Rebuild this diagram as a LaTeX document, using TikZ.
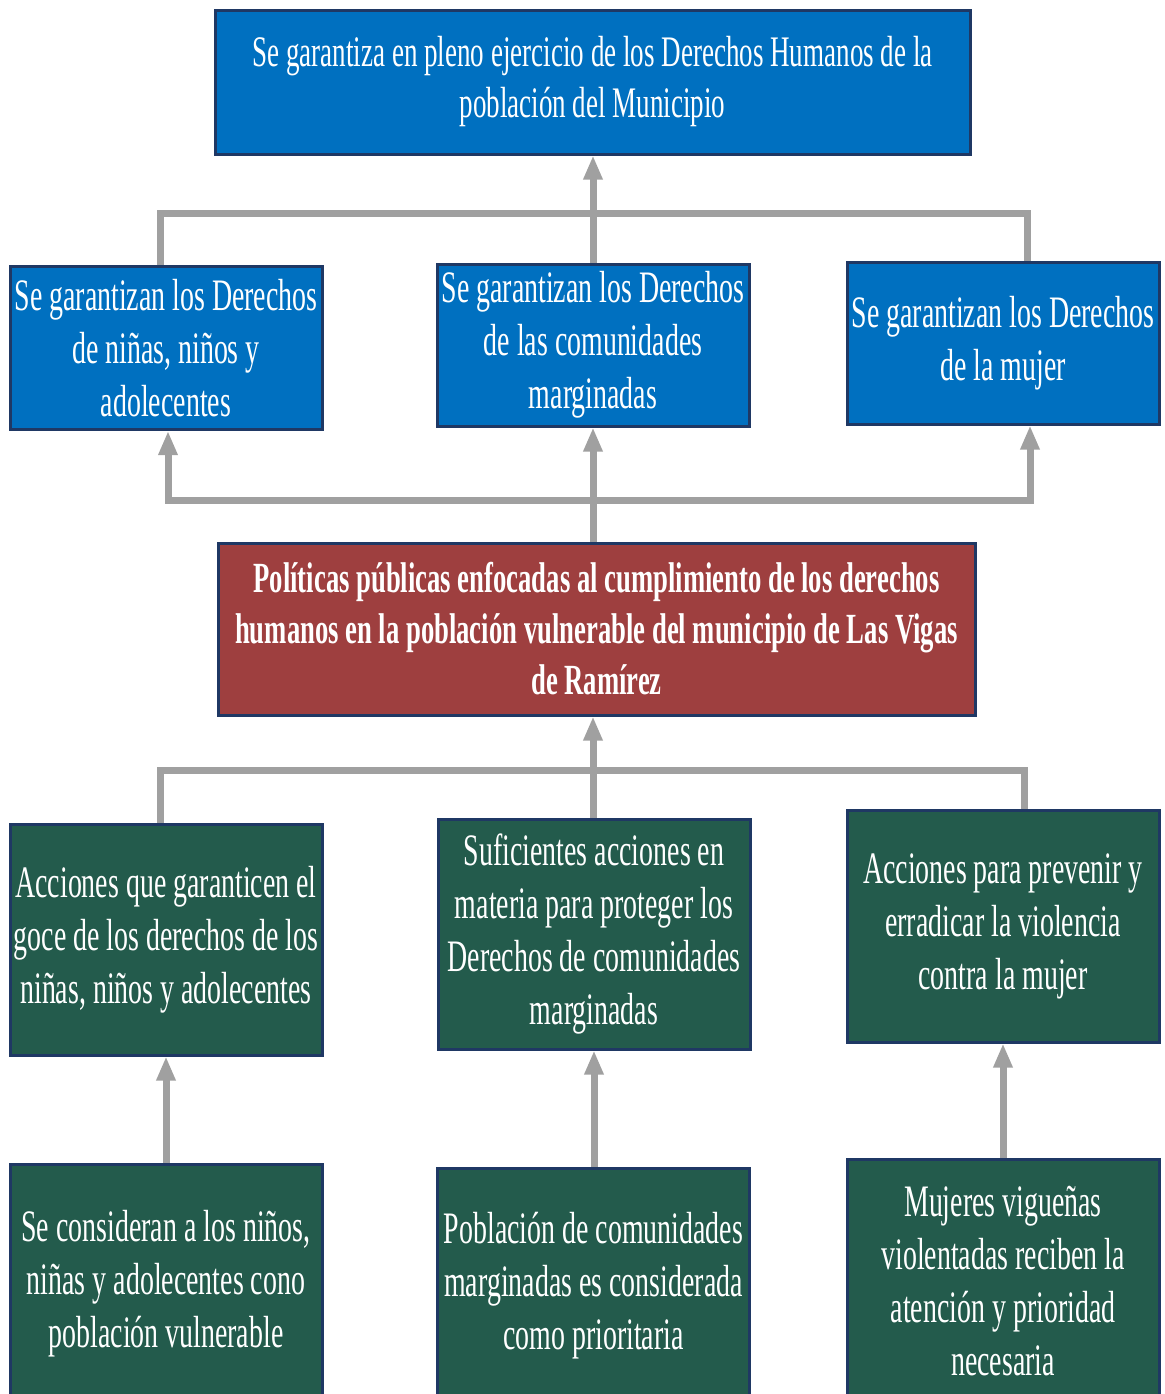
\documentclass[tikz,border=0pt]{standalone}
\usepackage{fontspec}
\setmainfont[FakeStretch=0.62]{Liberation Serif}
\usetikzlibrary{arrows.meta}
\definecolor{azul}{HTML}{0070C0}
\definecolor{rojo}{HTML}{9E3F3F}
\definecolor{verde}{HTML}{235B4C}
\definecolor{marco}{HTML}{1F3864}
\definecolor{gris}{HTML}{A0A0A0}
\tikzset{
  caja/.style={draw=marco,line width=1.5pt,text=white,align=center,inner sep=0pt,
    minimum width=156pt,font=\fontsize{22.5}{26.5}\selectfont},
  linea/.style={draw=gris,line width=3.5pt},
  flecha/.style={linea,-{Triangle[length=12pt,width=9pt]}}
}
\begin{document}
\begin{tikzpicture}[x=0.5pt,y=-0.5pt]
        \useasboundingbox (0,0) rectangle (1164,1394);
        \clip (0,0) rectangle (1164,1394);
        % fin
        \node[caja,fill=azul,minimum width=377.5pt,minimum height=72pt,font=\fontsize{21.8}{25.5}\selectfont] (meta) at (592.5,82)
            {Se garantiza en pleno ejercicio de los Derechos Humanos de la\\ población del Municipio};
        % derechos
        \node[caja,fill=azul,minimum height=81.5pt] (c1) at (166,348) {Se garantizan los Derechos\\ de niñas, niños y\\ adolecentes};
        \node[caja,fill=azul,minimum height=81pt] (c2) at (593,345) {Se garantizan los Derechos\\ de las comunidades\\ marginadas};
        \node[caja,fill=azul,minimum height=81pt] (c3) at (1003,343) {Se garantizan los Derechos\\ de la mujer};
        % politica
        \node[caja,fill=rojo,minimum width=378.5pt,minimum height=86pt,font=\fontsize{21.5}{25.5}\selectfont\bfseries] (pol) at (596.5,629)
            {Políticas públicas enfocadas al cumplimiento de los derechos\\ humanos en la población vulnerable del municipio de Las Vigas\\ de Ramírez};
        % acciones
        \node[caja,fill=verde,minimum height=115.5pt] (v1) at (166,939.5) {Acciones que garanticen el\\ goce de los derechos de los\\ niñas, niños y adolecentes};
        \node[caja,fill=verde,minimum height=115pt] (v2) at (594,934) {Suficientes acciones en\\ materia para proteger los\\ Derechos de comunidades\\ marginadas};
        \node[caja,fill=verde,minimum height=116pt] (v3) at (1003,926) {Acciones para prevenir y\\ erradicar la violencia\\ contra la mujer};
        % poblacion
        \node[caja,fill=verde,minimum height=120pt] (p1) at (166,1284) {Se consideran a los niños,\\ niñas y adolecentes cono\\ población vulnerable};
        \node[caja,fill=verde,minimum height=118pt] (p2) at (593.5,1286) {Población de comunidades\\ marginadas es considerada\\ como prioritaria};
        \node[caja,fill=verde,minimum height=122.5pt] (p3) at (1003,1281.5) {Mujeres vigueñas\\ violentadas reciben la\\ atención y prioridad\\ necesaria};
        % conectores
        \coordinate (b1) at (593,213);
        \coordinate (b2) at (593,500);
        \coordinate (b3) at (593,770);
        \draw[flecha] (c2.north) -- (c2.north |- meta.south);
        \draw[linea] ([xshift=-3pt]c1.north) |- (b1) -| ([xshift=12pt]c3.north);
        \draw[linea] (b2 |- pol.north) -- (b2);
        \draw[flecha] (b2) -| ([xshift=1pt]c1.south);
        \draw[flecha] (b2) -- (b2 |- c2.south);
        \draw[flecha] (b2) -| ([xshift=13.5pt]c3.south);
        \draw[flecha] (b3) -- (b3 |- pol.south);
        \draw[linea] ([xshift=-3pt]v1.north) |- (b3) -| ([xshift=10.5pt]v3.north);
        \draw[linea] (b3 |- v2.north) -- (b3);
        \draw[flecha] (p1.north) -- (v1.south);
        \draw[flecha] (p2.north -| v2.south) -- (v2.south);
        \draw[flecha] (p3.north) -- (v3.south);
    \end{tikzpicture}
\end{document}
